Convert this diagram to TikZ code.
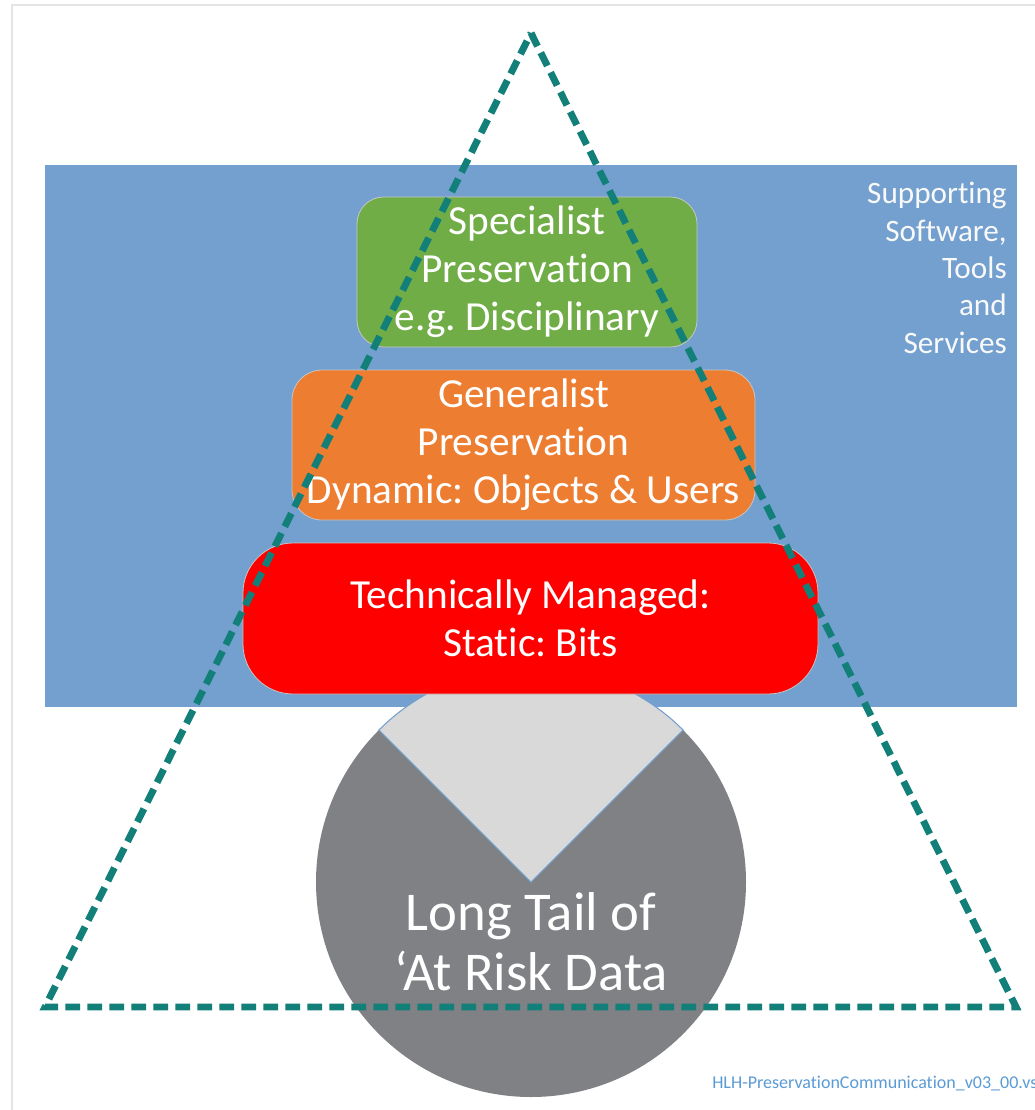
\documentclass[tikz,border=0pt]{standalone}
\usepackage{fontspec}
\setmainfont{Carlito}[Ligatures=NoCommon]
\frenchspacing
\definecolor{bgblue}{RGB}{115,160,207}
\definecolor{boxgreen}{RGB}{112,173,71}
\definecolor{boxorange}{RGB}{237,125,49}
\definecolor{boxred}{RGB}{255,0,0}
\definecolor{discgray}{RGB}{127,129,133}
\definecolor{wedgegray}{RGB}{217,217,217}
\definecolor{teal}{RGB}{18,128,120}
\definecolor{noteblue}{RGB}{91,155,213}
\definecolor{framegray}{RGB}{228,228,228}
\begin{document}
\begin{tikzpicture}[x=0.75pt,y=-0.75pt,
  layerbox/.style={rounded corners=#1, draw=white!55!gray, line width=0.6pt,
    text=white, align=center, inner sep=0pt,
    font=\fontsize{31}{36}\selectfont},
  dashtri/.style={draw=teal, line width=5.2pt, dash pattern=on 11pt off 5.5pt},
]
\useasboundingbox (0,0) rectangle (1035,1110);
\fill[white] (0,0) rectangle (1035,1110);
% frame
\coordinate (ftl) at (12,5);
\coordinate (ftr) at (1035,5);
\coordinate (fbl) at (12,1110);
\draw[framegray, line width=1.5pt] (ftr) -- (ftl) -- (fbl);
% blue background
\fill[bgblue] (45,165) rectangle (1017,707);
% disc
\coordinate (dc) at (531,882);
\fill[discgray] (dc) circle[radius=215];
\filldraw[fill=wedgegray, draw=bgblue, line width=0.8pt] (dc) -- ++(-135:215) arc[start angle=-135, end angle=-45, radius=215] -- cycle;
% layer boxes
\node[layerbox=20pt, fill=boxgreen, minimum width=255pt, minimum height=112.5pt] (spec) at (527,272)
  {Specialist\\Preservation\\e.g. Disciplinary};
\node[layerbox=22.5pt, fill=boxorange, minimum width=347.25pt, minimum height=112.5pt] (gen) at (523.5,445)
  {Generalist\\Preservation\\Dynamic: Objects \& Users};
\node[layerbox=37.5pt, fill=boxred, minimum width=431.25pt, minimum height=113.25pt] (tech) at (530.5,618.5)
  {Technically Managed:\\Static: Bits};
% supporting text
\node[anchor=east, align=right, text=white!95!gray, inner sep=0pt,
  font=\fontsize{23.4}{28}\selectfont] (supp) at (1007,268)
  {Supporting\\Software,\\Tools\\and\\Services};
% triangle
\coordinate (apex) at (531,33);
\coordinate (bl) at (45,1007);
\coordinate (br) at (1016,1007);
\draw[dashtri] (apex) -- (br) -- (bl) -- cycle;
% long tail text
\node[align=center, text=white, inner sep=0pt, font=\fontsize{41}{45}\selectfont] (tail) at (531,942)
  {Long Tail of\\‘At Risk Data};
% file note
\begin{scope}
\clip (0,0) rectangle (1035,1110);
\node[anchor=base west, inner sep=0pt, text=noteblue, font=\fontsize{13.5}{16}\selectfont] (note) at (712,1088)
  {HLH-PreservationCommunication\_v03\_00.vs};
\end{scope}
\end{tikzpicture}
\end{document}
